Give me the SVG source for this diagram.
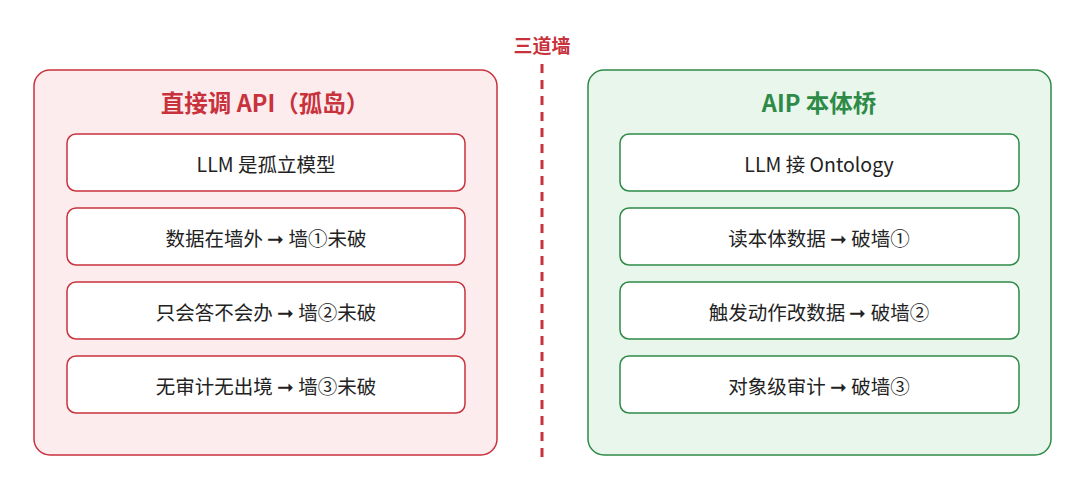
<svg xmlns="http://www.w3.org/2000/svg" width="1080" height="491" viewBox="0 0 1080 491">
<style>
text{font-family:"Noto Sans CJK SC","Liberation Sans",sans-serif;text-anchor:middle;dominant-baseline:central}
.item{fill:#fff;stroke-width:1.5}
.r .item,.r .panel{stroke:#c8323c}
.g .item,.g .panel{stroke:#2e8b47}
.t{font-size:19.5px;fill:#222}
.h{font-size:23.5px;font-weight:bold}
</style>
<rect width="1080" height="491" fill="#fff"/>
<text x="542" y="44" font-size="19" font-weight="bold" fill="#c8323c">三道墙</text>
<g id="connectors"><line x1="542" y1="64" x2="542" y2="462" stroke="#c8323c" stroke-width="3" stroke-dasharray="9,7"/></g>
<g id="left" class="r">
<rect class="panel" x="34" y="70" width="463" height="385" rx="16" fill="#fdecee" stroke-width="1.5"/>
<text class="h" x="265" y="102" fill="#c8323c">直接调 API（孤岛）</text>
<g id="l1"><rect class="item" x="67" y="134" width="398" height="57" rx="9"/><text class="t" x="266" y="163">LLM 是孤立模型</text></g>
<g id="l2"><rect class="item" x="67" y="208" width="398" height="57" rx="9"/><text class="t" x="266" y="237">数据在墙外 ➞ 墙①未破</text></g>
<g id="l3"><rect class="item" x="67" y="282" width="398" height="57" rx="9"/><text class="t" x="266" y="311">只会答不会办 ➞ 墙②未破</text></g>
<g id="l4"><rect class="item" x="67" y="356" width="398" height="57" rx="9"/><text class="t" x="266" y="385">无审计无出境 ➞ 墙③未破</text></g>
</g>
<g id="right" class="g">
<rect class="panel" x="588" y="70" width="463" height="385" rx="16" fill="#e9f6ec" stroke-width="1.5"/>
<text class="h" x="819" y="102" fill="#2e8b47">AIP 本体桥</text>
<g id="r1"><rect class="item" x="620" y="134" width="399" height="57" rx="9"/><text class="t" x="819" y="163">LLM 接 Ontology</text></g>
<g id="r2"><rect class="item" x="620" y="208" width="399" height="57" rx="9"/><text class="t" x="819" y="237">读本体数据 ➞ 破墙①</text></g>
<g id="r3"><rect class="item" x="620" y="282" width="399" height="57" rx="9"/><text class="t" x="819" y="311">触发动作改数据 ➞ 破墙②</text></g>
<g id="r4"><rect class="item" x="620" y="356" width="399" height="57" rx="9"/><text class="t" x="819" y="385">对象级审计 ➞ 破墙③</text></g>
</g>
</svg>
